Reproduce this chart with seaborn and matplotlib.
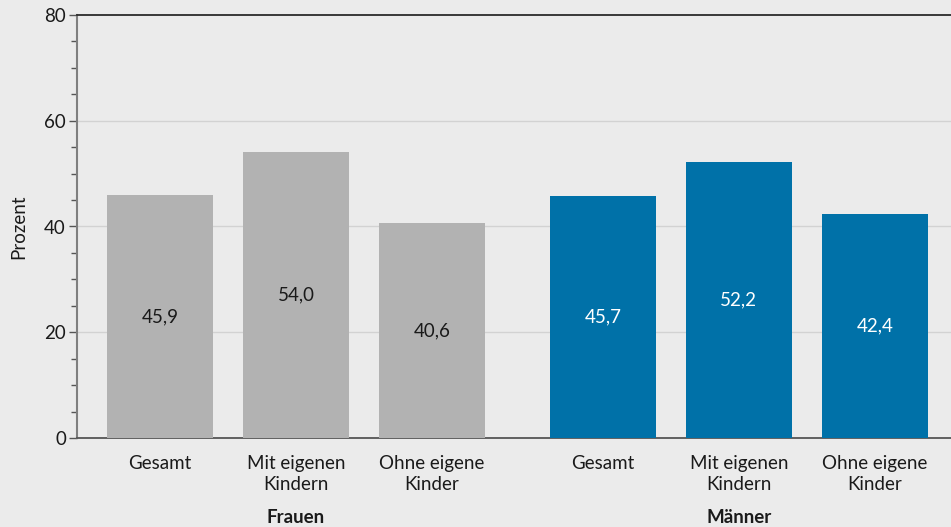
import matplotlib
matplotlib.use("Agg")
import matplotlib.pyplot as plt
import seaborn as sns
import pandas as pd
from matplotlib.ticker import MultipleLocator

# ---- data ----
categories = ["Gesamt", "Mit eigenen\nKindern", "Ohne eigene\nKinder"]
groups = ["Frauen", "Männer"]
frauen = [45.9, 54.0, 40.6]
maenner = [45.7, 52.2, 42.4]
y_ticks = [0, 20, 40, 60, 80]
y_label = "Prozent"

group_colors = {"Frauen": "#b2b2b2", "Männer": "#0071a8"}
label_colors = {"Frauen": "#1a1a1a", "Männer": "white"}
group_gap = 0.257
FS = 13.5

rows = []
for g, (grp, vals) in enumerate(zip(groups, [frauen, maenner])):
    for i, (cat, v) in enumerate(zip(categories, vals)):
        rows.append({"group": grp, "cat": cat, "value": v,
                     "pos": i + g * (len(categories) + group_gap)})
df = pd.DataFrame(rows)

sns.set_theme(style="white")
plt.rcParams["font.family"] = ["Lato", "DejaVu Sans"]

fig = plt.figure(figsize=(9.51, 5.27), dpi=100, facecolor="#ebebeb")
ax = fig.add_axes([77 / 951, 1 - 438 / 527, 1 - 77 / 951, (438 - 15) / 527])
ax.set_facecolor("#ebebeb")

sns.barplot(data=df, x="pos", y="value", hue="group", palette=group_colors,
            native_scale=True, width=0.78, dodge=False, legend=False,
            saturation=1, linewidth=0, ax=ax, zorder=3)

for cont, grp in zip(ax.containers, groups):
    vals = df[df.group == grp]["value"].tolist()
    ax.bar_label(cont, labels=[f"{v:.1f}".replace(".", ",") for v in vals],
                 label_type="center", color=label_colors[grp], fontsize=FS)

ax.set_ylim(0, 80)
ax.set_xlim(-0.61, df["pos"].max() + 0.56)
ax.set_yticks(y_ticks)
ax.set_yticklabels([str(t) for t in y_ticks], fontsize=FS, color="#1a1a1a")
ax.yaxis.set_minor_locator(MultipleLocator(5))
ax.tick_params(axis="y", which="major", length=6, width=1, color="#555555", pad=2, left=True)
ax.tick_params(axis="y", which="minor", length=4, width=1, color="#555555", left=True)

ax.set_xticks(df["pos"].tolist())
ax.set_xticklabels(df["cat"].tolist(), fontsize=FS, color="#1a1a1a", linespacing=1.3)
ax.tick_params(axis="x", length=0, pad=12)
ax.set_xlabel("")
ax.set_ylabel(y_label, fontsize=FS, color="#1a1a1a", labelpad=12)

for y in y_ticks[1:-1]:
    ax.axhline(y, color="#d2d2d2", lw=1, zorder=1)

ax.spines["right"].set_visible(False)
ax.spines["top"].set_visible(True)
ax.spines["top"].set_color("#2b2b2b")
ax.spines["top"].set_linewidth(1.3)
ax.spines["left"].set_color("#7f7f7f")
ax.spines["left"].set_linewidth(1.5)
ax.spines["bottom"].set_color("#555555")
ax.spines["bottom"].set_linewidth(1.3)

# group labels
for g, grp in enumerate(groups):
    centre = df[df.group == grp]["pos"].mean()
    ax.annotate(grp, xy=(centre, 0), xycoords=("data", "axes fraction"),
                xytext=(0, -57), textcoords="offset points",
                ha="center", va="center", fontsize=FS, fontweight="bold",
                color="#1a1a1a")

fig.savefig("out.png", dpi=100, facecolor=fig.get_facecolor())
